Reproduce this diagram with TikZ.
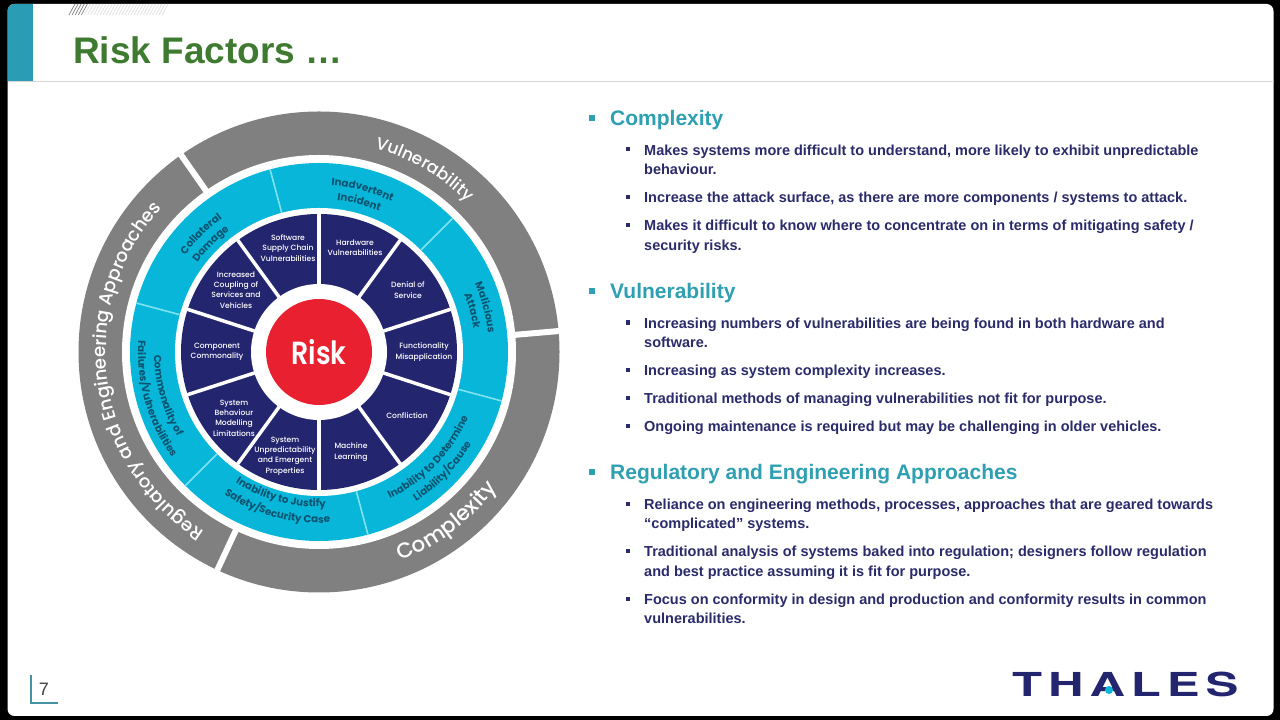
\documentclass[tikz,border=0pt]{standalone}
\usepackage{fontspec}
\setmainfont{Liberation Sans}
\newfontfamily\wheelfont{Poppins}
\newfontfamily\wheelmed{Poppins Medium}
\newfontfamily\wheelsemi{Poppins SemiBold}
\newfontfamily\logofont{TeX Gyre Heros}
\usetikzlibrary{decorations.text}
\definecolor{navy}{HTML}{24256F}
\definecolor{cyanband}{HTML}{08B6D9}
\definecolor{cyanline}{HTML}{7FE3EF}
\definecolor{greyband}{HTML}{808080}
\definecolor{riskred}{HTML}{E8202F}
\definecolor{teallabel}{HTML}{0A5470}
\definecolor{tealhead}{HTML}{2F9FB2}
\definecolor{tealblock}{HTML}{2A9CB4}
\definecolor{titlegreen}{HTML}{3E7A2F}
\definecolor{bodynavy}{HTML}{2B2B6B}
\tikzset{
  heading/.style={anchor=base west,inner sep=0pt,text=tealhead,font=\fontsize{21}{21}\selectfont\bfseries},
  body/.style={anchor=base west,inner sep=0pt,text=bodynavy,font=\fontsize{14.5}{14.5}\selectfont\bfseries},
  headbullet/.style={fill=tealhead,minimum size=6pt,inner sep=0pt},
  bodybullet/.style={fill=bodynavy,minimum size=4.5pt,inner sep=0pt},
  navytext/.style={align=center,inner sep=0pt,text=white,font=\fontsize{7.6}{10.4}\selectfont\wheelmed},
  spoke/.style={white,line width=3.5pt},
  gap/.style={white,line width=6pt},
  thinspoke/.style={cyanline,line width=1.6pt}
}
% clockwise text (letter tops outward): angle, radius, format, text
\newcommand\arccw[4]{\path[decorate,decoration={text along path,text align={center},text={|#3|#4}}] (#1+75:#2) arc[start angle=#1+75,end angle=#1-75,radius=#2 pt];}
% counter-clockwise text (letter tops inward)
\newcommand\arcccw[4]{\path[decorate,decoration={text along path,text align={center},text={|#3|#4}}] (#1-75:#2) arc[start angle=#1-75,end angle=#1+75,radius=#2 pt];}
\newcommand\bandfont{\fontsize{10.3}{10.3}\selectfont\wheelfont\bfseries\color{teallabel}}
\newcommand\outersmall{\fontsize{17}{17}\selectfont\wheelmed\color{white}}
\newcommand\outerfont{\fontsize{18.2}{18.2}\selectfont\wheelmed\color{white}}
\newcommand\outerbig{\fontsize{21.3}{21.3}\selectfont\wheelmed\color{white}}
\begin{document}
\begin{tikzpicture}[x=1pt,y=1pt]
\useasboundingbox (0,0) rectangle (1280,720);
\fill[black] (0,0) rectangle (1280,720);
\fill[white,rounded corners=7pt] (7.5,4) rectangle (1273.5,716);
% header
\begin{scope}
\clip[rounded corners=7pt] (7.5,4) rectangle (1273.5,716);
\fill[tealblock] (7.5,639) rectangle (32.5,716);
\end{scope}
\draw[black!16,line width=1pt] (7.5,638.5) -- (1273.5,638.5);
\foreach \i in {0,...,4}{\draw[black!50,line width=.7pt] (69+3.1*\i,705) -- (75+3.1*\i,716);}
\foreach \i in {5,...,30}{\draw[black!12,line width=.7pt] (69+3.1*\i,705) -- (75+3.1*\i,716);}
\node[anchor=base west,inner sep=0pt,text=titlegreen,font=\fontsize{37}{37}\selectfont\bfseries] (title) at (73,656.5) {Risk Factors …};
% wheel
\begin{scope}[shift={(319,368)}]
\fill[greyband] (0,0) circle[radius=240.5pt];
\fill[white] (0,0) circle[radius=197pt];
\fill[cyanband] (0,0) circle[radius=189pt];
\fill[white] (0,0) circle[radius=144pt];
\fill[navy] (0,0) circle[radius=138pt];
\fill[white] (0,0) circle[radius=68pt];
\fill[riskred] (0,0) circle[radius=53pt];
\foreach \a in {5,125,245}{\draw[gap] (\a:193) -- (\a:246);}
\foreach \a in {45,105,165,225,285,345}{\draw[thinspoke] (\a:144) -- (\a:189);}
\foreach \a in {18,54,90,126,162,198,234,270,306,342}{\draw[spoke] (\a:66) -- (\a:139);}
\node[inner sep=0pt,text=white,font=\fontsize{32}{32}\selectfont\wheelsemi] (risk) at (0,0) {\scalebox{.84}[1]{Risk}};
% outer labels
\arccw{60}{211}{\outersmall}{Vulnerability}
\arccw{187.5}{213}{\outerfont}{Regulatory and Engineering Approaches}
\arcccw{-53}{224}{\outerbig}{Complexity}
% cyan labels
\arccw{75}{167}{\bandfont}{Inadvertent}
\arccw{75}{153}{\bandfont}{Incident}
\arccw{15}{170}{\bandfont}{Malicious}
\arccw{15}{156}{\bandfont}{Attack}
\arcccw{-44}{163}{\bandfont}{Inability to Determine}
\arcccw{-44}{178}{\bandfont}{Liability/Cause}
\arcccw{255}{155}{\bandfont}{Inability to Justify}
\arcccw{255}{171}{\bandfont}{Safety/Security Case}
\arcccw{196}{165}{\bandfont}{Commonality of}
\arcccw{196}{181}{\bandfont}{Failures/Vulnerabilities}
\arccw{135}{165}{\bandfont}{Collateral}
\arccw{135}{151}{\bandfont}{Damage}
\end{scope}
% inner labels
\node[navytext] (n1) at (355,472) {Hardware\\Vulnerabilities};
\node[navytext] (n2) at (408,430) {Denial of\\Service};
\node[navytext] (n3) at (424,368) {Functionality\\Misapplication};
\node[navytext] (n4) at (407,304) {Confliction};
\node[navytext] (n5) at (351,268) {Machine\\Learning};
\node[navytext] (n6) at (285,264) {System\\Unpredictability\\and Emergent\\Properties};
\node[navytext] (n7) at (234,302) {System\\Behaviour\\Modelling\\Limitations};
\node[navytext] (n8) at (217,368) {Component\\Commonality};
\node[navytext] (n9) at (236,430) {Increased\\Coupling of\\Services and\\Vehicles};
\node[navytext] (n10) at (288,472) {Software\\Supply Chain\\Vulnerabilities};
% right column
\node[headbullet] (hb1) at (592,601.5) {};
\node[heading] (h1) at (610,594.3) {Complexity};
\node[bodybullet] (b1) at (628,571) {};
\node[body] (t1) at (644,564.5) {Makes systems more difficult to understand, more likely to exhibit unpredictable};
\node[body] (t1b) at (644,545.5) {behaviour.};
\node[bodybullet] (b2) at (628,523) {};
\node[body] (t2) at (644,517.5) {Increase the attack surface, as there are more components / systems to attack.};
\node[bodybullet] (b3) at (628,495) {};
\node[body] (t3) at (644,489.5) {Makes it difficult to know where to concentrate on in terms of mitigating safety /};
\node[body] (t3b) at (644,469.5) {security risks.};
\node[headbullet] (hb2) at (592,429) {};
\node[heading] (h2) at (610,421.3) {Vulnerability};
\node[bodybullet] (b4) at (628,397.5) {};
\node[body] (t4) at (644,391.5) {Increasing numbers of vulnerabilities are being found in both hardware and};
\node[body] (t4b) at (644,372.5) {software.};
\node[bodybullet] (b5) at (628,350) {};
\node[body] (t5) at (644,344.5) {Increasing as system complexity increases.};
\node[bodybullet] (b6) at (628,322) {};
\node[body] (t6) at (644,316.5) {Traditional methods of managing vulnerabilities not fit for purpose.};
\node[bodybullet] (b7) at (628,294) {};
\node[body] (t7) at (644,288.5) {Ongoing maintenance is required but may be challenging in older vehicles.};
\node[headbullet] (hb3) at (592,248) {};
\node[heading] (h3) at (610,240.3) {Regulatory and Engineering Approaches};
\node[bodybullet] (b8) at (628,216) {};
\node[body] (t8) at (644,210.5) {Reliance on engineering methods, processes, approaches that are geared towards};
\node[body] (t8b) at (644,191.5) {“complicated” systems.};
\node[bodybullet] (b9) at (628,169) {};
\node[body] (t9) at (644,163.5) {Traditional analysis of systems baked into regulation; designers follow regulation};
\node[body] (t9b) at (644,143.5) {and best practice assuming it is fit for purpose.};
\node[bodybullet] (b10) at (628,121) {};
\node[body] (t10) at (644,115.5) {Focus on conformity in design and production and conformity results in common};
\node[body] (t10b) at (644,96.5) {vulnerabilities.};
% page number
\draw[tealblock!70!gray,line width=2pt] (30.5,45) -- (30.5,16.5) -- (58,16.5);
\node[inner sep=0pt,text=black!75,font=\fontsize{18}{18}\selectfont] (page) at (44,31) {7};
% logo
\node[inner sep=0pt,anchor=base west,text=navy,font=\fontsize{33}{33}\selectfont\logofont\bfseries] (logo) at (1012,23) {\scalebox{1.49}[1]{T\kern.12em H\kern.12em A\kern.12em L\kern.12em E\kern.12em S}};
\fill[white] (1109,38) -- (1102.5,23) -- (1115.5,23) -- cycle;
\fill[cyanband] (1109,30) circle[radius=4pt];
\end{tikzpicture}
\end{document}
